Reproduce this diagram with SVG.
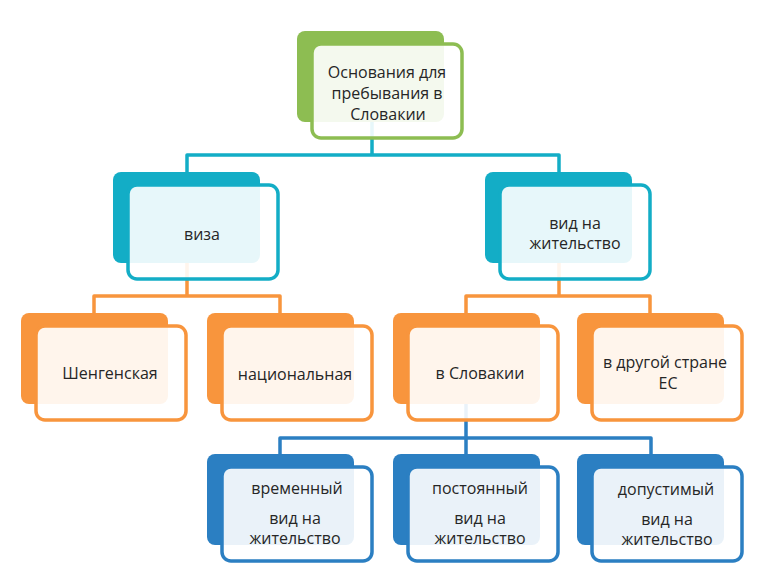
<svg xmlns="http://www.w3.org/2000/svg" width="768" height="585" viewBox="0 0 768 585">
<style>
.t{font-family:"Open Sans","Noto Sans","DejaVu Sans",sans-serif;font-size:16px;fill:#262626;text-anchor:middle}
.fr{fill:#ffffff;fill-opacity:0.9;stroke-width:3.5}
.c{fill:none;stroke-width:3.5;stroke-linejoin:round}
.g{fill:#8dbd52}.gs{stroke:#8dbd52}
.a{fill:#13adc6}.as{stroke:#13adc6}
.o{fill:#f8953d}.os{stroke:#f8953d}
.b{fill:#2b7fc2}.bs{stroke:#2b7fc2}
</style>
<rect width="768" height="585" fill="#ffffff"/>
<g id="connectors">
<path class="c as" d="M372 122 V155 M187 172 V155 H559 V172"/>
<path class="c os" d="M187 263 V296 M94 313 V296 H280 V313"/>
<path class="c os" d="M559 263 V296 M466 313 V296 H650 V313"/>
<path class="c bs" d="M466 404 V454 M280 454 V438 H651 V454"/>
</g>
<g id="n-top">
<rect class="g" x="297" y="31" width="147" height="91" rx="8"/>
<rect class="fr gs" x="312" y="44" width="150" height="94" rx="9"/>
<text class="t" x="387" y="78">Основания для</text>
<text class="t" x="387" y="99">пребывания в</text>
<text class="t" x="388" y="120">Словакии</text>
</g>
<g id="n-viza">
<rect class="a" x="113" y="172" width="147" height="91" rx="8"/>
<rect class="fr as" x="128" y="185" width="150" height="94" rx="9"/>
<text class="t" x="202" y="240">виза</text>
</g>
<g id="n-vid">
<rect class="a" x="485" y="172" width="147" height="91" rx="8"/>
<rect class="fr as" x="500" y="185" width="150" height="94" rx="9"/>
<text class="t" x="575" y="229">вид на</text>
<text class="t" x="575" y="249">жительство</text>
</g>
<g id="n-schengen">
<rect class="o" x="21" y="313" width="147" height="91" rx="8"/>
<rect class="fr os" x="36" y="326" width="150" height="94" rx="9"/>
<text class="t" x="110" y="379">Шенгенская</text>
</g>
<g id="n-national">
<rect class="o" x="207" y="313" width="147" height="91" rx="8"/>
<rect class="fr os" x="222" y="326" width="150" height="94" rx="9"/>
<text class="t" x="295" y="380">национальная</text>
</g>
<g id="n-slovakia">
<rect class="o" x="393" y="313" width="147" height="91" rx="8"/>
<rect class="fr os" x="408" y="326" width="150" height="94" rx="9"/>
<text class="t" x="480" y="379">в Словакии</text>
</g>
<g id="n-other">
<rect class="o" x="577" y="313" width="147" height="91" rx="8"/>
<rect class="fr os" x="592" y="326" width="150" height="94" rx="9"/>
<text class="t" x="665" y="368">в другой стране</text>
<text class="t" x="668" y="389">ЕС</text>
</g>
<g id="n-temp">
<rect class="b" x="207" y="454" width="147" height="91" rx="8"/>
<rect class="fr bs" x="222" y="467" width="150" height="94" rx="9"/>
<text class="t" x="297" y="494">временный</text>
<text class="t" x="295" y="524">вид на</text>
<text class="t" x="295" y="544">жительство</text>
</g>
<g id="n-perm">
<rect class="b" x="393" y="454" width="147" height="91" rx="8"/>
<rect class="fr bs" x="408" y="467" width="150" height="94" rx="9"/>
<text class="t" x="480" y="494">постоянный</text>
<text class="t" x="480" y="524">вид на</text>
<text class="t" x="480" y="544">жительство</text>
</g>
<g id="n-allowed">
<rect class="b" x="577" y="454" width="147" height="91" rx="8"/>
<rect class="fr bs" x="592" y="467" width="150" height="94" rx="9"/>
<text class="t" x="666" y="495">допустимый</text>
<text class="t" x="667" y="525">вид на</text>
<text class="t" x="667" y="545">жительство</text>
</g>
</svg>
